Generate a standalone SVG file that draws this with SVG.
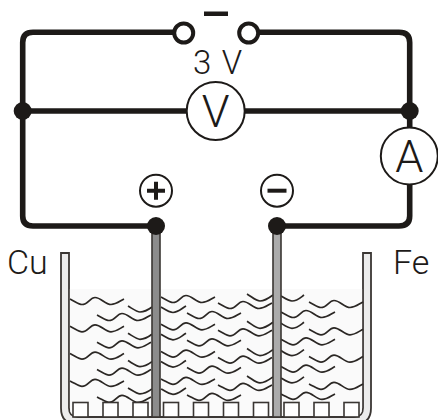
<svg xmlns="http://www.w3.org/2000/svg" width="438" height="420" viewBox="0 0 438 420">
<style>
.w{fill:none;stroke:#1d1a18;stroke-width:5.6}
.c{fill:#fff;stroke:#1d1a18;stroke-width:2}
.d{fill:#1d1a18}
.o{fill:#fff;stroke:#1d1a18;stroke-width:4}
.t{font-family:"Roboto","Liberation Sans",sans-serif;font-weight:300;fill:#1d1a18}
.wv{fill:none;stroke:#2b2724;stroke-width:1.7}
.sq{fill:#fff;stroke:#3a3633;stroke-width:1.6}
</style>
<defs>
<path id="L" d="M0 0C6 3 9 5.500 12 5.500C18 5.500 20-1.500 25-1.500C31-1.500 35 5.500 41 5.500C46 5.500 50 2 54 0"/>
<path id="S" d="M0 0C5 3 9 5.500 12 5.500C17 5.500 20 2 25-1"/>
<g id="row" class="wv">
<use href="#L" x="70" y="299"/>
<use href="#L" x="97" y="315"/>
<path d="M128 306C133 309 137 312 140 312C145 312 148 310 152 307"/>
<use href="#L" x="161" y="297"/>
<use href="#S" x="161" y="307"/>
<use href="#L" x="187" y="313"/>
<use href="#L" x="218" y="303"/>
<path d="M247 294C252 297 256 301 260 301C265 301 269 298 273 295"/>
<path d="M281 296C286 299 289 301 292 301C297 301 300 298 304 295"/>
<use href="#L" x="281" y="312"/>
<use href="#L" x="309" y="302"/>
</g>
</defs>
<g id="beaker">
<path d="M61 253H69V408Q69 417 78 417H354Q363 417 363 408V253H371V408Q371 424 355 424H77Q61 424 61 408Z" fill="#ececec" stroke="#3a3633" stroke-width="1.800"/>
<path d="M69.900 289H362.100V408Q362.100 416 354 416H78Q69.900 416 69.900 408Z" fill="#fafafa" stroke="none"/>
</g>
<g id="waves">
<use href="#row"/>
<use href="#row" y="27.300"/>
<use href="#row" y="54.600"/>
<use href="#row" y="81.900"/>
</g>
<g id="bottom-squares">
<rect class="sq" x="73" y="402.500" width="15" height="14.500"/>
<rect class="sq" x="103" y="402.500" width="15" height="14.500"/>
<rect class="sq" x="133" y="402.500" width="15" height="14.500"/>
<rect class="sq" x="163.500" y="402.500" width="15" height="14.500"/>
<rect class="sq" x="193.500" y="402.500" width="15" height="14.500"/>
<rect class="sq" x="223.500" y="402.500" width="15" height="14.500"/>
<rect class="sq" x="253.500" y="402.500" width="15" height="14.500"/>
<rect class="sq" x="284" y="402.500" width="15" height="14.500"/>
<rect class="sq" x="314" y="402.500" width="15" height="14.500"/>
<rect class="sq" x="344" y="402.500" width="15" height="14.500"/>
</g>
<g id="electrodes">
<rect id="cu-electrode" x="152" y="226" width="8" height="191" fill="#8c8c8c" stroke="#3a3633" stroke-width="1.600"/>
<rect id="fe-electrode" x="273" y="226" width="8" height="191" fill="#ababab" stroke="#3a3633" stroke-width="1.600"/>
</g>
<g id="connectors">
<path class="w" d="M184 32.300H33Q22.700 32.300 22.700 42.500V216Q22.700 226 33 226H156"/>
<path class="w" d="M249 32.300H399Q409.700 32.300 409.700 42.500V216Q409.700 226 399 226H277"/>
<path class="w" d="M22.700 111H409.700"/>
</g>
<g id="switch">
<circle class="o" cx="183.700" cy="33" r="9.500"/>
<circle class="o" cx="248.700" cy="33" r="9.500"/>
<rect class="d" x="204" y="11.500" width="24" height="4.500"/>
</g>
<text class="t" x="193" y="74" font-size="33" textLength="49" lengthAdjust="spacing">3 V</text>
<circle class="d" cx="22.700" cy="111" r="9"/>
<circle class="d" cx="409.700" cy="111" r="9"/>
<circle class="d" cx="156" cy="226" r="9"/>
<circle class="d" cx="277" cy="226" r="9"/>
<g id="voltmeter">
<circle class="c" cx="215.700" cy="111" r="29"/>
<text class="t" x="215.700" y="127" font-size="45" text-anchor="middle">V</text>
</g>
<g id="ammeter">
<circle class="c" cx="409.300" cy="156" r="28.500"/>
<text class="t" x="409.300" y="172" font-size="45" text-anchor="middle">A</text>
</g>
<g id="plus">
<circle class="c" cx="156" cy="190.700" r="16"/>
<path d="M147 190.700H165M156 181.700V199.700" fill="none" stroke="#1d1a18" stroke-width="4"/>
</g>
<g id="minus">
<circle class="c" cx="277" cy="190.700" r="16"/>
<path d="M267.500 190.700H286.500" fill="none" stroke="#1d1a18" stroke-width="4"/>
</g>
<text class="t" x="7" y="274" font-size="34">Cu</text>
<text class="t" x="393" y="274" font-size="34">Fe</text>
</svg>
